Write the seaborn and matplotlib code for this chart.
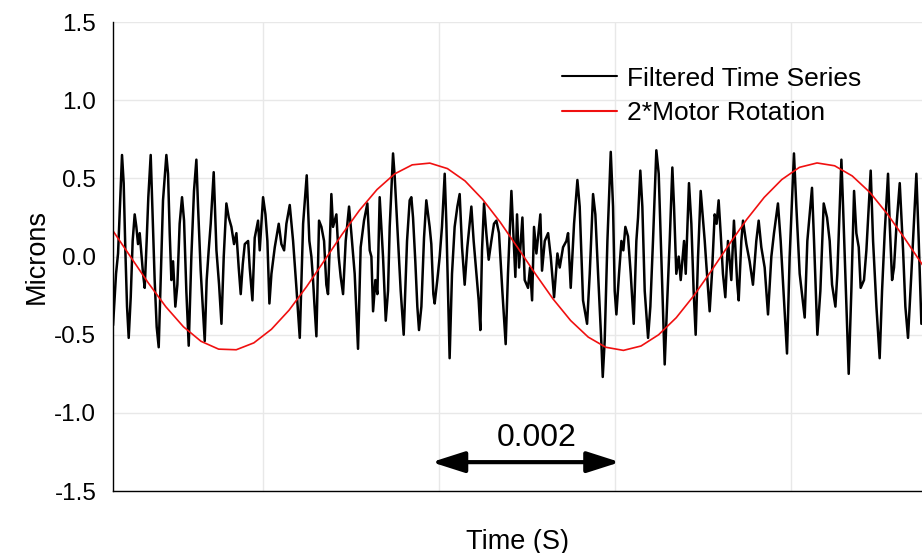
import numpy as np
import pandas as pd
import seaborn as sns
import matplotlib.pyplot as plt

# filtered time series (time in ms, displacement in microns)
trace_ms = [
    0.300, 0.334, 0.357, 0.379, 0.402, 0.421, 0.440, 0.459, 0.478, 0.501,
    0.523, 0.546, 0.565, 0.584, 0.603, 0.622, 0.641, 0.660, 0.682, 0.701,
    0.728, 0.747, 0.773, 0.796, 0.819, 0.841, 0.868, 0.906, 0.925, 0.944,
    0.963, 0.982, 1.008, 1.031, 1.057, 1.084, 1.107, 1.133, 1.160, 1.190,
    1.220, 1.247, 1.266, 1.296, 1.319, 1.342, 1.364, 1.387,
    1.410, 1.444, 1.475, 1.505, 1.532, 1.558, 1.588, 1.615, 1.645, 1.675,
    1.702, 1.728, 1.751, 1.774, 1.797, 1.835, 1.853, 1.884, 1.910, 1.948,
    1.967, 1.986, 2.005, 2.032, 2.054, 2.077, 2.100, 2.138, 2.183, 2.213,
    2.244, 2.270, 2.308, 2.346, 2.384, 2.422, 2.460, 2.501,
    2.531, 2.554, 2.573, 2.588, 2.611, 2.641, 2.668, 2.698, 2.724, 2.743,
    2.762, 2.781, 2.800, 2.838, 2.864, 2.887, 2.914, 2.944, 2.982, 3.008,
    3.046, 3.084, 3.114, 3.152, 3.190, 3.217, 3.236, 3.255, 3.281, 3.304,
    3.330, 3.368, 3.399, 3.425, 3.444, 3.482, 3.501, 3.531, 3.569, 3.603,
    3.641, 3.671,
    3.690, 3.709, 3.735, 3.758, 3.777, 3.804, 3.834, 3.860, 3.898, 3.917,
    3.940, 3.955, 3.985, 4.012, 4.038, 4.069, 4.088, 4.107, 4.125, 4.152,
    4.182, 4.213, 4.239, 4.266, 4.296, 4.326, 4.372, 4.398, 4.429, 4.455,
    4.474, 4.493, 4.516, 4.542, 4.569, 4.599, 4.629, 4.656, 4.686, 4.724,
    4.762, 4.788,
    4.827, 4.853, 4.872, 4.891, 4.914, 4.952, 4.978, 5.016, 5.039, 5.062,
    5.084, 5.111, 5.156, 5.175, 5.206, 5.244, 5.274, 5.312, 5.350, 5.376,
    5.414, 5.452, 5.471, 5.501, 5.539, 5.577, 5.603, 5.641, 5.687, 5.717,
    5.755, 5.781, 5.812, 5.850, 5.865, 5.887, 5.918, 5.956,
    5.982, 6.001, 6.020, 6.050, 6.077, 6.099, 6.122, 6.152, 6.183, 6.217,
    6.247, 6.266, 6.292, 6.315, 6.342, 6.380, 6.406, 6.436, 6.474, 6.501,
    6.531, 6.569, 6.595, 6.626, 6.656, 6.675, 6.701, 6.728, 6.751, 6.789,
    6.808, 6.845, 6.872, 6.898, 6.921, 6.948, 6.978, 7.024, 7.042,
    7.080, 7.106, 7.137, 7.159, 7.182, 7.205, 7.231, 7.258, 7.288, 7.326,
    7.356, 7.394, 7.410, 7.440, 7.459, 7.497, 7.534, 7.572, 7.610, 7.637,
    7.667, 7.705, 7.743, 7.781, 7.811, 7.856, 7.887, 7.925, 7.959, 7.989,
    8.038, 8.065, 8.103, 8.160, 8.190,
    8.243, 8.266, 8.304, 8.338, 8.376, 8.414, 8.444, 8.471, 8.509, 8.531,
    8.577, 8.596, 8.634, 8.660, 8.690, 8.721, 8.747, 8.774, 8.796, 8.834,
    8.861, 8.910, 8.937, 8.975, 9.012, 9.039, 9.069, 9.107, 9.126, 9.153,
    9.175, 9.202, 9.240, 9.278, 9.304, 9.334, 9.372, 9.429, 9.456, 9.486,
]
trace_um = [
    -0.44, -0.11, 0.02, 0.32, 0.65, 0.47, 0.04, -0.32, -0.52, -0.26,
    0.10, 0.27, 0.19, 0.08, 0.15, 0.02, -0.11, -0.20, 0.10, 0.38,
    0.65, 0.32, -0.15, -0.45, -0.58, -0.15, 0.36, 0.65, 0.53, 0.15,
    -0.15, -0.03, -0.32, -0.18, 0.21, 0.38, 0.23, -0.22, -0.57, 0.00,
    0.42, 0.62, 0.32, -0.09, -0.32, -0.54, -0.15, 0.04,
    0.21, 0.54, 0.04, -0.18, -0.43, 0.00, 0.34, 0.25, 0.19, 0.08,
    0.15, -0.07, -0.24, -0.05, 0.08, 0.10, -0.07, -0.28, 0.12, 0.23,
    0.04, 0.21, 0.38, 0.27, 0.10, -0.30, -0.11, 0.06, 0.21, 0.08,
    0.04, 0.21, 0.33, 0.10, -0.20, -0.52, 0.21, 0.52,
    0.10, 0.00, -0.15, -0.30, -0.51, 0.23, 0.19, 0.10, -0.18, -0.24,
    0.06, 0.40, 0.19, 0.27, 0.00, -0.13, -0.24, 0.10, 0.32, 0.15,
    -0.11, -0.59, 0.06, 0.23, 0.34, 0.04, 0.00, -0.35, -0.15, -0.24,
    0.38, 0.00, -0.41, -0.22, 0.19, 0.66, 0.51, 0.19, -0.22, -0.50,
    0.10, 0.36,
    0.38, 0.25, -0.03, -0.32, -0.47, -0.32, 0.12, 0.36, 0.19, 0.08,
    -0.24, -0.30, -0.15, 0.00, 0.19, 0.53, 0.21, -0.24, -0.65, -0.11,
    0.19, 0.32, 0.40, 0.06, -0.18, 0.06, 0.32, 0.10, -0.11, -0.28,
    -0.47, 0.04, 0.34, 0.15, -0.02, 0.10, 0.21, 0.23, 0.15, -0.22,
    -0.56, -0.11,
    0.42, 0.10, -0.13, 0.27, -0.07, 0.25, -0.15, -0.20, -0.07, -0.28,
    0.19, 0.02, 0.27, -0.09, 0.10, 0.15, 0.00, -0.26, 0.02, -0.07,
    0.06, 0.10, 0.15, -0.20, 0.21, 0.49, 0.32, -0.28, -0.43, -0.11,
    0.40, 0.27, -0.11, -0.56, -0.77, -0.54, 0.10, 0.67,
    0.32, -0.22, -0.37, -0.11, 0.10, 0.04, 0.19, 0.13, -0.11, -0.43,
    0.10, 0.25, 0.55, 0.32, -0.22, -0.52, -0.32, 0.10, 0.68, 0.53,
    0.00, -0.69, -0.32, 0.10, 0.57, 0.32, -0.11, 0.00, -0.15, 0.10,
    -0.11, 0.47, 0.21, -0.22, -0.50, 0.00, 0.42, 0.10, -0.05,
    -0.35, -0.11, 0.27, 0.21, 0.36, 0.15, -0.11, -0.26, 0.10, -0.15,
    0.23, -0.18, -0.28, 0.10, 0.23, 0.08, -0.03, -0.18, 0.10, 0.23,
    0.06, -0.07, -0.37, 0.00, 0.15, 0.34, 0.10, -0.28, -0.62, 0.00,
    0.66, 0.32, -0.11, -0.39, 0.10,
    0.44, 0.10, -0.50, -0.22, 0.34, 0.25, 0.10, -0.18, -0.32, -0.11,
    0.62, 0.32, -0.32, -0.75, -0.22, 0.42, 0.15, 0.06, -0.20, -0.15,
    0.04, 0.55, 0.10, -0.32, -0.65, -0.22, 0.15, 0.53, 0.21, -0.15,
    -0.07, 0.19, 0.47, 0.04, -0.32, -0.52, -0.11, 0.53, 0.10, -0.43,
]

# 2*motor rotation curve, read every 0.2 ms from 0.3 ms to 9.5 ms
motor_ms = np.linspace(0.3, 9.5, 47)
motor_um = [
    0.164, -0.002, -0.168, -0.321, -0.449, -0.542, -0.592, -0.596, -0.552, -0.465,
    -0.343, -0.192, -0.027, 0.140, 0.296, 0.429, 0.529, 0.587, 0.598, 0.563,
    0.484, 0.366, 0.220, 0.056, -0.111, -0.271, -0.409, -0.515, -0.580, -0.600,
    -0.572, -0.500, -0.391, -0.250, -0.090, 0.077, 0.237, 0.379, 0.493, 0.571,
    0.599, 0.581, 0.516, 0.411, 0.272, 0.113, -0.054,
]

yticks = [-1.5, -1.0, -0.5, 0.0, 0.5, 1.0, 1.5]
xticks_s = [0.002, 0.004, 0.006, 0.008]
scale_start_s, scale_end_s = 0.00392, 0.00606
scale_label = "0.002"

trace = pd.DataFrame({"time": np.array(trace_ms) / 1000, "microns": trace_um})
motor = pd.DataFrame({"time": motor_ms / 1000, "microns": motor_um})

sns.set_style("white")
plt.rcParams["font.family"] = ["Liberation Sans", "DejaVu Sans"]
plt.rcParams["axes.unicode_minus"] = False
plt.rcParams["text.color"] = "black"
plt.rcParams["axes.labelcolor"] = "black"
plt.rcParams["ytick.labelcolor"] = "black"

fig = plt.figure(figsize=(9.22, 5.53), dpi=100)
ax = fig.add_axes([0.1226, 0.112, 0.8774, 0.848])

sns.lineplot(data=trace, x="time", y="microns", ax=ax, color="black",
             linewidth=1.8, estimator=None, sort=False, label="Filtered Time Series")
sns.lineplot(data=motor, x="time", y="microns", ax=ax, color="#f01010",
             linewidth=1.2, estimator=None, sort=False, label="2*Motor Rotation")

ax.set_xlim(0.0003, 0.009493)
ax.set_ylim(-1.5, 1.5)
ax.set_xticks(xticks_s)
ax.set_xticklabels([])
ax.set_yticks(yticks)
ax.set_yticklabels([f"{v:.1f}" for v in yticks], fontsize=17.5)
ax.tick_params(axis="both", direction="in", length=4, width=1, color="black", pad=12)
ax.grid(True, color="#e8e8e8", linewidth=1)

for side in ["top", "right"]:
    ax.spines[side].set_visible(False)
for side in ["left", "bottom"]:
    ax.spines[side].set_color("black")
    ax.spines[side].set_linewidth(1)

ax.set_xlabel("Time (S)", fontsize=19.5, labelpad=15)
ax.set_ylabel("Microns", fontsize=19.5, labelpad=3)

# scale bar with double arrow
ax.annotate("", xy=(scale_end_s, -1.315), xytext=(scale_start_s, -1.315),
            arrowprops=dict(arrowstyle="<|-|>,head_length=1.0,head_width=0.32",
                            mutation_scale=20, lw=3, color="black",
                            shrinkA=0, shrinkB=0))
ax.text((scale_start_s + scale_end_s) / 2 + 0.00012, -1.16, scale_label,
        ha="center", va="center", fontsize=23)

leg = ax.legend(loc="upper left", bbox_to_anchor=(0.555, 0.905), frameon=False,
                fontsize=19, handlelength=2.1, handletextpad=0.35,
                labelspacing=0.4, borderpad=0, borderaxespad=0)
for line in leg.get_lines():
    line.set_linewidth(1.5)

fig.savefig("out.png", dpi=100)
